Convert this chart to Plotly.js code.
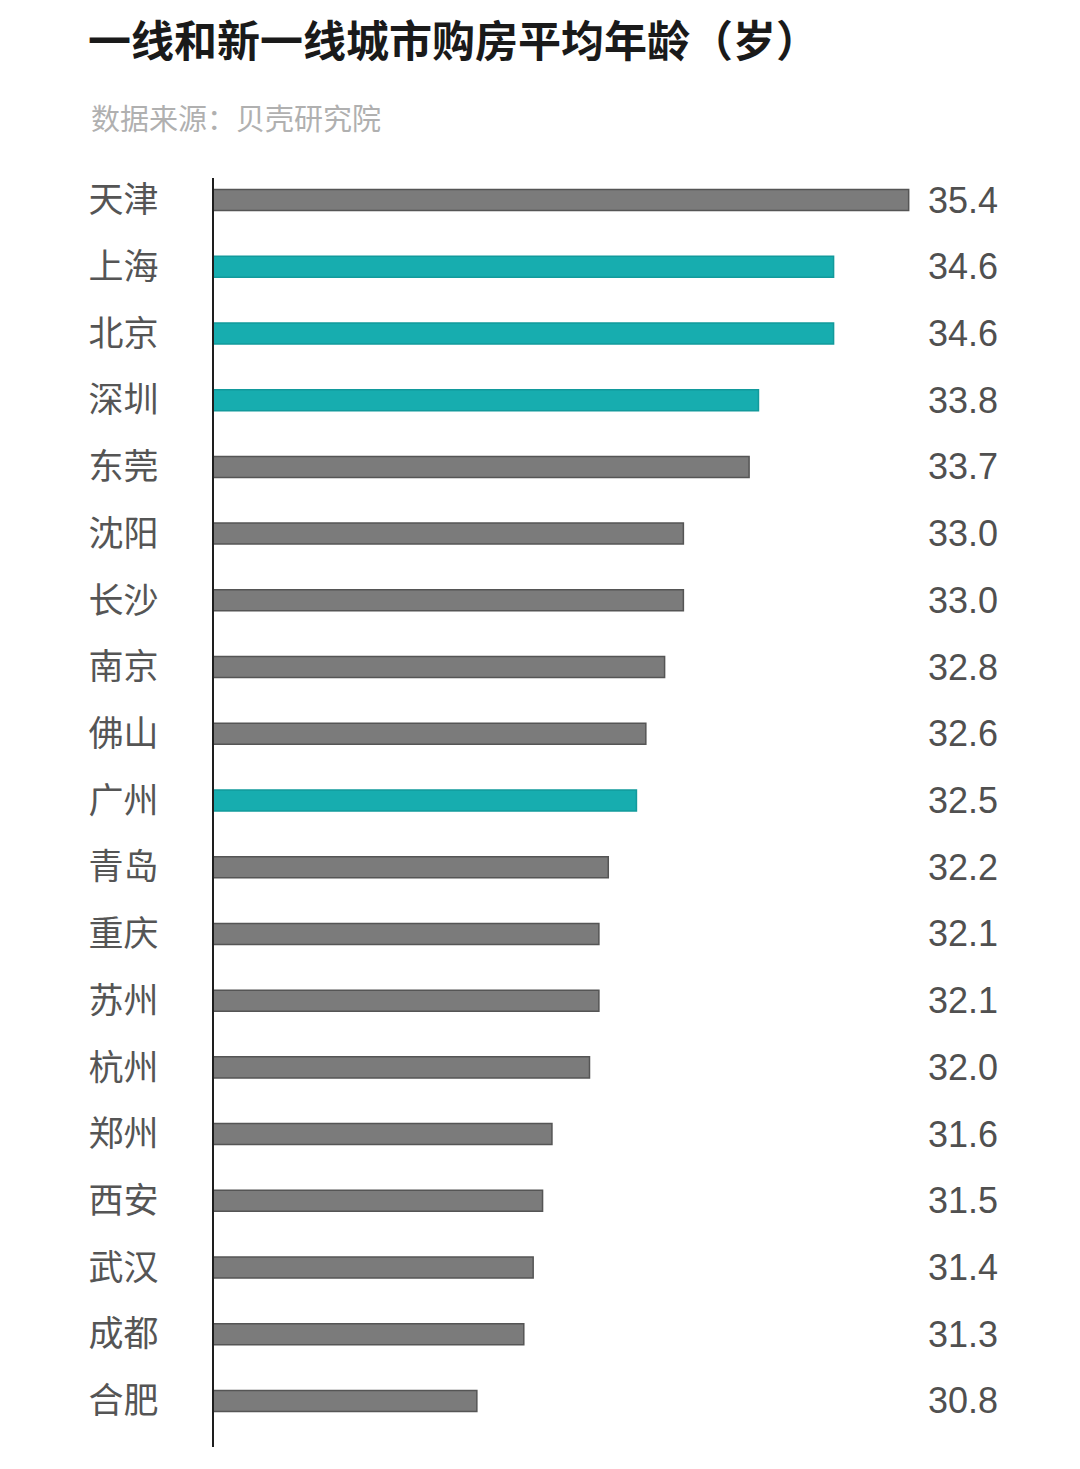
<!DOCTYPE html>
<html>
<head>
<meta charset="utf-8">
<script src="https://cdn.plot.ly/plotly-3.0.1.min.js"></script>
<style>html,body{margin:0;padding:0;background:#fff;}#chart{width:1080px;height:1469px;}</style>
</head>
<body>
<div id="chart"></div>
<script>
const cities = ["天津","上海","北京","深圳","东莞","沈阳","长沙","南京","佛山","广州","青岛","重庆","苏州","杭州","郑州","西安","武汉","成都","合肥"];
const ages = [35.4,34.6,34.6,33.8,33.7,33.0,33.0,32.8,32.6,32.5,32.2,32.1,32.1,32.0,31.6,31.5,31.4,31.3,30.8];
const firstTier = ["上海","北京","深圳","广州"];
const titleText = "一线和新一线城市购房平均年龄（岁）";
const sourceText = "数据来源：贝壳研究院";

const TEAL = "#17adaf", TEAL_EDGE = "#129a9c";
const GRAY = "#7b7b7b", GRAY_EDGE = "#555555";
const fill = cities.map(c => firstTier.includes(c) ? TEAL : GRAY);
const edge = cities.map(c => firstTier.includes(c) ? TEAL_EDGE : GRAY_EDGE);

const trace = {
  type: "bar",
  orientation: "h",
  y: cities,
  x: ages,
  base: 0,
  marker: {color: fill, line: {color: edge, width: 1.5}},
  hoverinfo: "none"
};

const W = 1080, H = 1469;
const plotL = 214, plotR = 965, plotT = 178, plotB = 1447;
const pw = plotR - plotL, ph = plotB - plotT;

const annotations = cities.map((c, i) => ({
  xref: "paper", yref: "y",
  x: (963 - plotL) / pw, y: c,
  text: ages[i].toFixed(1),
  showarrow: false,
  xanchor: "center", yanchor: "middle",
  font: {family: "Liberation Sans, Arial, sans-serif", size: 36, color: "#505050"}
}));
annotations.push({
  xref: "paper", yref: "paper",
  x: (89 - plotL) / pw, y: (plotB - 117) / ph,
  xanchor: "left", yanchor: "middle",
  text: sourceText, showarrow: false,
  font: {family: "Noto Sans CJK SC, sans-serif", size: 29, color: "#b0b0b0"}
});

const layout = {
  width: W, height: H,
  paper_bgcolor: "#fff", plot_bgcolor: "#fff",
  margin: {l: plotL, r: W - plotR, t: plotT, b: H - plotB, pad: 0},
  showlegend: false,
  bargap: 0.685,
  title: {
    text: "<b>" + titleText + "</b>",
    xref: "container", yref: "container",
    x: 88 / W, xanchor: "left",
    y: 1 - 42 / H, yanchor: "middle",
    font: {family: "Noto Sans CJK SC, sans-serif", size: 43, color: "#1a1a1a"}
  },
  xaxis: {
    range: [28, 36],
    showgrid: false, zeroline: false, showline: false,
    showticklabels: false, ticks: ""
  },
  yaxis: {
    type: "category",
    categoryorder: "array", categoryarray: cities,
    range: [18.69, -0.33],
    showgrid: false, zeroline: false,
    showline: true, linecolor: "#1e1e1e", linewidth: 2.5,
    ticks: "", ticklabelstandoff: 46,
    tickfont: {family: "Noto Sans CJK SC, sans-serif", size: 35, color: "#555555"}
  },
  annotations: annotations
};

Plotly.newPlot("chart", [trace], layout, {displayModeBar: false, staticPlot: true});
</script>
</body>
</html>
